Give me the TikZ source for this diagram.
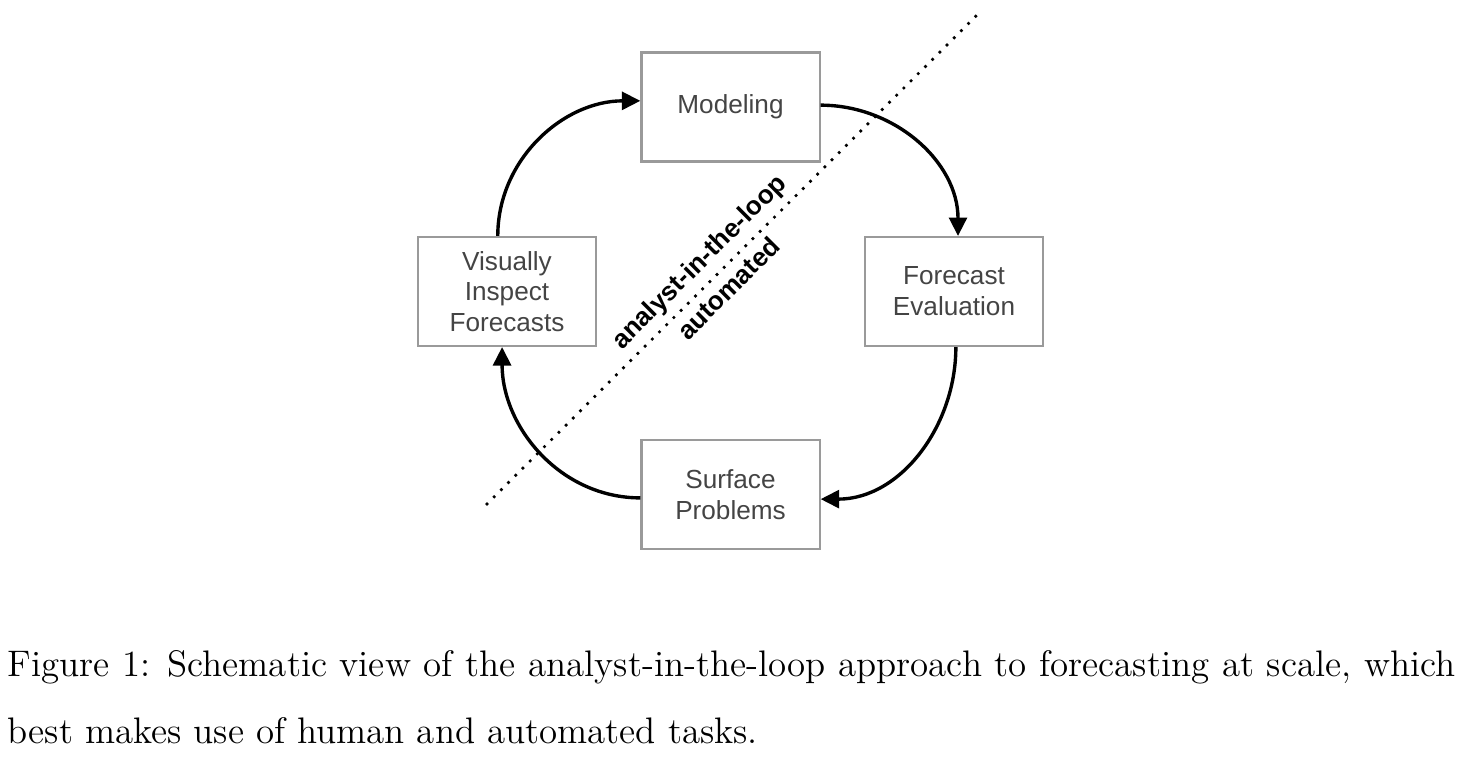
\documentclass[tikz,border=0pt]{standalone}
\usepackage{fontspec}
\newfontfamily\boxfont{Liberation Sans}
\usetikzlibrary{arrows.meta}
\definecolor{cGray}{HTML}{9A9A9A}
\definecolor{cText}{HTML}{444444}

\begin{document}
\begin{tikzpicture}[x=0.325pt,y=0.325pt,
    stage/.style={draw=cGray, line width=0.7pt, minimum width=57.9pt, minimum height=35.4pt,
      inner sep=0pt, align=center, text=cText, font=\boxfont\fontsize{8.5}{10}\selectfont},
    loop/.style={line width=1.1pt, -{Triangle[length=6pt,width=5.8pt]}},
    cut/.style={line width=1.2pt, line cap=round, dash pattern=on 0pt off 3.3pt},
    side/.style={font=\boxfont\bfseries\fontsize{8.5}{10}\selectfont, sloped, inner sep=2pt}]
	\useasboundingbox (0,0) rectangle (1460,758);
	% the four stages
	\node[stage] (mod) at (730.5,651) {Modeling};
	\node[stage] (fev) at (954,466.5) {Forecast\\Evaluation};
	\node[stage] (sur) at (730.5,263.5) {Surface\\Problems};
	\node[stage] (vis) at (507,466.5) {Visually\\Inspect\\Forecasts};
	% split between analyst and automated
	\coordinate (cutA) at (487,254);
	\coordinate (cutB) at (978,744);
	\draw [cut] (cutA) -- (cutB)
		node[side, pos=0.463, above] (human) {analyst-in-the-loop}
		node[side, pos=0.466, below] (auto) {automated};
	% the loop
	\draw [loop] ([xshift=-3pt]vis.north) to[out=90,in=180] ([yshift=2pt]mod.west);
	\draw [loop] ([yshift=0.6pt]mod.east) to[out=0,in=90] ([xshift=1.3pt]fev.north);
	\draw [loop] ([xshift=0.6pt]fev.south) to[out=-90,in=0] ([yshift=-1.5pt]sur.east);
	\draw [loop] ([yshift=-1.1pt]sur.west) to[out=180,in=-90] ([xshift=-1.6pt]vis.south);
	% caption
	\node[anchor=base west, inner sep=0pt, text width=470.6pt, align=justify,
		font=\fontsize{12}{21.8}\selectfont] (cap) at (7,82)
		{Figure 1: Schematic view of the analyst-in-the-loop approach to forecasting at scale, which\linebreak best makes use of human and automated tasks.};
\end{tikzpicture}
\end{document}
